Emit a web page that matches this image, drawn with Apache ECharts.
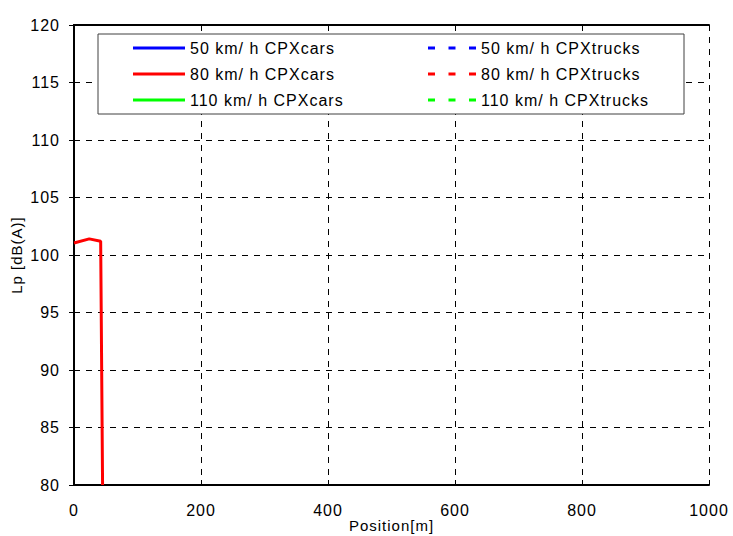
<!DOCTYPE html>
<html><head><meta charset="utf-8">
<script src="https://cdn.jsdelivr.net/npm/echarts@6/dist/echarts.min.js"></script>
<style>html,body{margin:0;padding:0;background:#fff}#c{width:733px;height:536px}#c text{letter-spacing:1px}</style>
</head><body><div id="c"></div>
<script>
const seriesNames = ['50 km/ h CPXcars','80 km/ h CPXcars','110 km/ h CPXcars','50 km/ h CPXtrucks','80 km/ h CPXtrucks','110 km/ h CPXtrucks'];
const seriesColors = ['#0000ff','#ff0000','#00ff00','#0000ff','#ff0000','#00ff00'];
const seriesDashed = [false,false,false,true,true,true];
const posCars80 = [0, 24, 42, 45];
const lpCars80 = [101.05, 101.4, 101.2, 80];
const emptyData = [];
const xTicks = [0,200,400,600,800,1000];
const yTicks = [80,85,90,95,100,105,110,115,120];

const font = 'Liberation Sans, Arial, sans-serif';
const chart = echarts.init(document.getElementById('c'), null, {renderer:'svg'});
const series = seriesNames.map((n,i)=>({
  name:n, type:'line', symbol:'none', clip:true,
  data: i===1 ? posCars80.map((x,k)=>[x,lpCars80[k]]) : emptyData,
  lineStyle:{color:seriesColors[i], width:3, type: seriesDashed[i]?[7,13]:'solid'},
  itemStyle:{color:seriesColors[i]}
}));
const legendText = {color:'#000', fontFamily:font, fontSize:16, lineHeight:18};
const solidIcon = 'rect';
const dashIcon = 'path://M0,0h7v3h-7zM20.5,0h7v3h-7zM41,0h7v3h-7z';
chart.setOption({
  animation:false,
  grid:{left:74,right:24,top:25,bottom:51,outerBoundsMode:'none',containLabel:false},
  graphic:[{type:'rect', shape:{x:98,y:34,width:586,height:80}, style:{fill:'#fff',stroke:'#404040',lineWidth:1}, z:5}],
  legend:[
    {id:'lc', data:seriesNames.slice(0,3).map(n=>({name:n, icon:solidIcon})), orient:'vertical', left:133, top:39, itemWidth:52, itemHeight:3, itemGap:8, symbolKeepAspect:false, textStyle:legendText, z:10, selectedMode:false, padding:0},
    {id:'lt', data:seriesNames.slice(3).map(n=>({name:n, icon:dashIcon})), orient:'vertical', left:428, top:39, itemWidth:48, itemHeight:3, itemGap:8, symbolKeepAspect:false, textStyle:legendText, z:10, selectedMode:false, padding:0}
  ],
  xAxis:[{type:'value', min:0, max:1000, interval:200, name:'Position[m]', nameLocation:'middle', nameGap:33, nameMoveOverlap:false,
    nameTextStyle:{fontFamily:font,fontSize:15,color:'#000'},
    axisLine:{lineStyle:{color:'#000',width:2}}, axisTick:{inside:true,length:5,lineStyle:{color:'#000'}},
    axisLabel:{fontFamily:font,fontSize:16,color:'#000',margin:17,formatter:v=>String(v)},
    splitLine:{show:true,lineStyle:{color:'#000',type:[6,6],width:1}}},
    {type:'value', position:'top', min:0, max:1000, interval:200, axisLine:{lineStyle:{color:'#000',width:2}}, axisTick:{inside:true,length:5,lineStyle:{color:'#000'}}, axisLabel:{show:false}, splitLine:{show:false}}],
  yAxis:[{type:'value', min:80, max:120, interval:5, name:'Lp [dB(A)]', nameLocation:'middle', nameGap:50, nameMoveOverlap:false,
    nameTextStyle:{fontFamily:font,fontSize:15,color:'#000'},
    axisLine:{show:true,lineStyle:{color:'#000',width:2}}, axisTick:{show:true,inside:true,length:5,lineStyle:{color:'#000'}},
    axisLabel:{fontFamily:font,fontSize:16,color:'#000',margin:14},
    splitLine:{show:true,lineStyle:{color:'#000',type:[6,6],width:1}}},
    {type:'value', position:'right', min:80, max:120, interval:5, axisLine:{show:true,lineStyle:{color:'#000',width:2}}, axisTick:{show:true,inside:true,length:5,lineStyle:{color:'#000'}}, axisLabel:{show:false}, splitLine:{show:false}}],
  series: series
});
</script></body></html>
